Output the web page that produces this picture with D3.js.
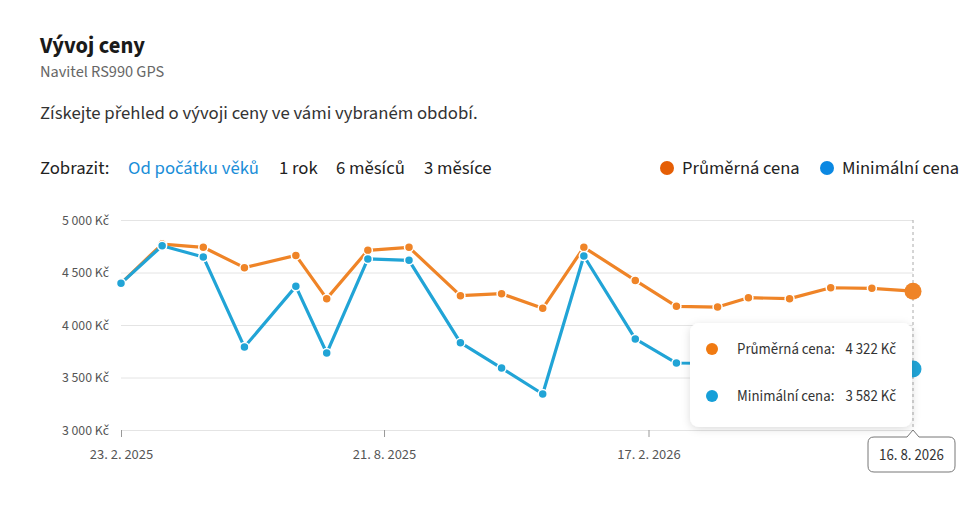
<!DOCTYPE html>
<html lang="cs">
<head>
<meta charset="UTF-8">
<title>Vývoj ceny</title>
<script src="https://cdn.jsdelivr.net/npm/d3@7"></script>
<style>
  body { margin: 0; background: #fff; }
  svg text { font-family: "Source Sans Pro", "Source Sans 3", Lato, sans-serif; }
</style>
</head>
<body>
<script>
    // dates of the price points (weekly aligned)
    var dates = ["2025-02-23", "2025-03-23", "2025-04-20", "2025-05-18", "2025-06-22",
        "2025-07-13", "2025-08-10", "2025-09-07", "2025-10-12", "2025-11-09",
        "2025-12-07", "2026-01-04", "2026-02-08", "2026-03-08", "2026-04-05",
        "2026-04-26", "2026-05-24", "2026-06-21", "2026-07-19", "2026-08-16"];
    var avgPrice = [4397, 4771, 4740, 4546, 4663, 4251, 4711, 4740, 4279, 4298,
        4159, 4740, 4425, 4178, 4171, 4260, 4251, 4355, 4349, 4322];
    var minPrice = [4397, 4755, 4648, 3790, 4368, 3733, 4629, 4616, 3832, 3590,
        3343, 4657, 3867, 3638, 3635, 3615, 3600, 3595, 3590, 3582];
    var xTicks = ["2025-02-23", "2025-08-21", "2026-02-17"];
    var yTicks = [3000, 3500, 4000, 4500, 5000];
    var periods = ["Od počátku věků", "1 rok", "6 měsíců", "3 měsíce"];

    var width = 965, height = 510;
    var lineOrange = "#ef8427", lineBlue = "#21a4d6";

    var parse = d3.timeParse("%Y-%m-%d");
    var locale = d3.formatLocale({decimal: ",", thousands: "\u00a0", grouping: [3], currency: ["", " Kč"]});
    var fmtPrice = function (v) { return locale.format(",.0f")(v) + "\u00a0Kč"; };
    var fmtDate = function (d) { return d.getDate() + ". " + (d.getMonth() + 1) + ". " + d.getFullYear(); };

    var x = d3.scaleTime()
        .domain([parse(dates[0]), parse(dates[dates.length - 1])])
        .range([121, 913]);
    var y = d3.scaleLinear()
        .domain([3000, 5000])
        .range([430, 220]);

    var svg = d3.select("body").append("svg")
        .attr("width", width)
        .attr("height", height);

    var defs = svg.append("defs");
    var shadow = defs.append("filter").attr("id", "shadow")
        .attr("x", "-20%").attr("y", "-20%").attr("width", "140%").attr("height", "150%");
    shadow.append("feDropShadow").attr("dx", 0).attr("dy", 2).attr("stdDeviation", 4)
        .attr("flood-color", "#000").attr("flood-opacity", 0.14);

    // header
    svg.append("text").attr("x", 40).attr("y", 53)
        .attr("font-size", 22.5).attr("font-weight", 700).attr("fill", "#1a1a1a")
        .text("Vývoj ceny");
    svg.append("text").attr("x", 40).attr("y", 77)
        .attr("font-size", 16.3).attr("fill", "#666")
        .text("Navitel RS990 GPS");
    svg.append("text").attr("x", 40).attr("y", 119)
        .attr("font-size", 18.7).attr("fill", "#333")
        .text("Získejte přehled o vývoji ceny ve vámi vybraném období.");

    // period switch
    svg.append("text").attr("x", 40).attr("y", 174)
        .attr("font-size", 18.7).attr("fill", "#222").text("Zobrazit:");
    var periodX = [128, 279, 336, 424];
    svg.selectAll(".period").data(periods).enter().append("text")
        .attr("class", "period")
        .attr("x", (d, i) => periodX[i]).attr("y", 174)
        .attr("font-size", 18.7)
        .attr("fill", (d, i) => i == 0 ? "#1a8ed8" : "#222")
        .text(d => d);

    // legend
    var legend = [{label: "Průměrná cena", color: "#e55e05", x: 667},
                  {label: "Minimální cena", color: "#0b88e2", x: 827}];
    var lg = svg.selectAll(".legend").data(legend).enter().append("g")
        .attr("class", "legend")
        .attr("transform", d => "translate(" + d.x + ",168)");
    lg.append("circle").attr("r", 7).attr("fill", d => d.color);
    lg.append("text").attr("x", 15).attr("y", 6).attr("font-size", 18.5).attr("fill", "#222")
        .text(d => d.label);

    // grid + y axis
    var yAxis = svg.append("g")
        .attr("transform", "translate(121,0)")
        .call(d3.axisLeft(y).tickValues(yTicks).tickFormat(fmtPrice).tickSize(-792).tickPadding(12));
    yAxis.select(".domain").remove();
    yAxis.selectAll(".tick line").attr("stroke", "#e4e4e4");
    yAxis.selectAll(".tick text").attr("font-size", 13.8).attr("fill", "#555");

    // x axis
    var xAxis = svg.append("g")
        .attr("transform", "translate(0,430)")
        .call(d3.axisBottom(x).tickValues(xTicks.map(parse)).tickFormat(fmtDate).tickSize(7).tickPadding(12));
    xAxis.select(".domain").remove();
    xAxis.selectAll(".tick line").attr("stroke", "#999");
    xAxis.selectAll(".tick text").attr("font-size", 14.5).attr("fill", "#555");

    // crosshair at hovered date
    var lastDate = parse(dates[dates.length - 1]);
    svg.append("line")
        .attr("x1", x(lastDate)).attr("x2", x(lastDate))
        .attr("y1", y(5000)).attr("y2", 437)
        .attr("stroke", "#aaa").attr("stroke-dasharray", "3,3");

    // series
    var series = [
        {name: "Průměrná cena", values: avgPrice, color: lineOrange},
        {name: "Minimální cena", values: minPrice, color: lineBlue}
    ];
    var line = d3.line()
        .x((d, i) => x(parse(dates[i])))
        .y(d => y(d));

    var sg = svg.selectAll(".series").data(series).enter().append("g")
        .attr("class", "series");
    sg.append("path")
        .attr("d", d => line(d.values))
        .attr("fill", "none")
        .attr("stroke", d => d.color)
        .attr("stroke-width", 3.2)
        .attr("stroke-linejoin", "round");
    sg.each(function (s) {
        d3.select(this).selectAll("circle").data(s.values).enter().append("circle")
            .attr("cx", (d, i) => x(parse(dates[i])))
            .attr("cy", d => y(d))
            .attr("r", (d, i) => i == s.values.length - 1 ? 8.5 : 4.5)
            .attr("fill", s.color)
            .attr("stroke", "#fff")
            .attr("stroke-width", (d, i) => i == s.values.length - 1 ? 0 : 1.5);
    });

    // tooltip
    var tip = svg.append("g").attr("transform", "translate(690,323)");
    tip.append("rect").attr("width", 222).attr("height", 104).attr("rx", 9)
        .attr("fill", "#fff").attr("filter", "url(#shadow)");
    var tipRows = [
        {label: "Průměrná cena:", value: avgPrice[avgPrice.length - 1], color: "#f07a12"},
        {label: "Minimální cena:", value: minPrice[minPrice.length - 1], color: "#169fd8"}
    ];
    var tr = tip.selectAll(".row").data(tipRows).enter().append("g")
        .attr("transform", (d, i) => "translate(0," + (26 + i * 47) + ")");
    tr.append("circle").attr("cx", 22).attr("r", 6).attr("fill", d => d.color);
    tr.append("text").attr("x", 47).attr("y", 5).attr("font-size", 14.8).attr("fill", "#333")
        .text(d => d.label);
    tr.append("text").attr("x", 206).attr("y", 5).attr("font-size", 14.8).attr("fill", "#333")
        .attr("text-anchor", "end")
        .text(d => fmtPrice(d.value));

    // hovered date label
    var cx = x(lastDate);
    var bx0 = cx - 45, bx1 = cx + 42, by0 = 437, by1 = 472, r = 6;
    svg.append("path")
        .attr("d", "M" + (bx0 + r) + "," + by0 +
            " L" + (cx - 6) + "," + by0 + " L" + cx + "," + (by0 - 7) + " L" + (cx + 6) + "," + by0 +
            " L" + (bx1 - r) + "," + by0 + " Q" + bx1 + "," + by0 + " " + bx1 + "," + (by0 + r) +
            " L" + bx1 + "," + (by1 - r) + " Q" + bx1 + "," + by1 + " " + (bx1 - r) + "," + by1 +
            " L" + (bx0 + r) + "," + by1 + " Q" + bx0 + "," + by1 + " " + bx0 + "," + (by1 - r) +
            " L" + bx0 + "," + (by0 + r) + " Q" + bx0 + "," + by0 + " " + (bx0 + r) + "," + by0 + " Z")
        .attr("fill", "#fff").attr("stroke", "#777").attr("stroke-width", 1);
    svg.append("text").attr("x", (bx0 + bx1) / 2).attr("y", 460)
        .attr("text-anchor", "middle").attr("font-size", 14.8).attr("fill", "#333")
        .text(fmtDate(lastDate));
</script>
</body>
</html>
